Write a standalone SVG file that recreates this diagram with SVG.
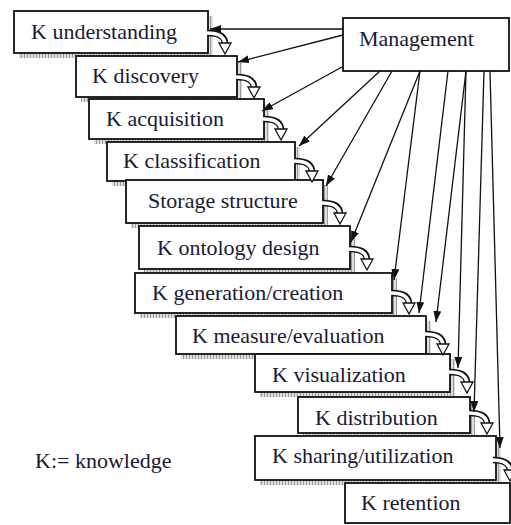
<svg xmlns="http://www.w3.org/2000/svg" xmlns:xlink="http://www.w3.org/1999/xlink" width="511" height="525" viewBox="0 0 511 525">
<style>
.box{fill:#fff;stroke:#111;stroke-width:1.8}
.sh{fill:url(#hatch)}
.t{font-family:"Liberation Serif","Times New Roman",serif;font-size:22px;fill:#1a1a34}
.ln{stroke:#111;stroke-width:1.3;fill:none;marker-end:url(#ah)}
.bo{stroke:#111;stroke-width:6.5;fill:none}
.bi{stroke:#fff;stroke-width:3.6;fill:none}
.hd{fill:#fff;stroke:#111;stroke-width:1.3;stroke-linejoin:miter}
</style>
<defs>
<pattern id="hatch" width="3" height="3" patternUnits="userSpaceOnUse">
<rect width="3" height="3" fill="#dedede"/>
<rect width="1" height="3" fill="#9c9c9c"/>
</pattern>
<marker id="ah" markerWidth="12" markerHeight="9" refX="11" refY="4" orient="auto" markerUnits="userSpaceOnUse">
<path d="M0,0 L11,4 L0,8 z" fill="#111"/>
</marker>
<g id="curl">
<path class="bo" d="M0,-20 Q17,-20 17,-9"/>
<path class="bi" d="M-1,-20 Q17,-20 17,-8"/>
<polygon class="hd" points="11,-10 23,-10 17,1"/>
</g>
</defs>
<rect width="511" height="525" fill="#fff"/>

<g id="n1"><rect class="sh" x="19" y="16" width="194" height="42"/><rect class="box" x="14" y="11" width="194" height="42"/><text class="t" x="31" y="39">K understanding</text></g>
<g id="n2"><rect class="sh" x="81" y="61" width="161" height="41"/><rect class="box" x="76" y="56" width="161" height="41"/><text class="t" x="92" y="83">K discovery</text></g>
<g id="n3"><rect class="sh" x="94" y="104" width="175" height="40"/><rect class="box" x="89" y="99" width="175" height="40"/><text class="t" x="106" y="126">K acquisition</text></g>
<g id="n4"><rect class="sh" x="112" y="147" width="188" height="39"/><rect class="box" x="107" y="142" width="188" height="39"/><text class="t" x="123" y="168">K classification</text></g>
<g id="n5"><rect class="sh" x="131" y="185" width="197" height="43"/><rect class="box" x="126" y="180" width="197" height="43"/><text class="t" x="148" y="208">Storage structure</text></g>
<g id="n6"><rect class="sh" x="144" y="231" width="211" height="43"/><rect class="box" x="139" y="226" width="211" height="43"/><text class="t" x="157" y="255">K ontology design</text></g>
<g id="n7"><rect class="sh" x="140" y="278" width="257" height="40"/><rect class="box" x="135" y="273" width="257" height="40"/><text class="t" x="152" y="300">K generation/creation</text></g>
<g id="n8"><rect class="sh" x="181" y="321" width="250" height="38"/><rect class="box" x="176" y="316" width="250" height="38"/><text class="t" x="192" y="343">K measure/evaluation</text></g>
<g id="n9"><rect class="sh" x="260" y="359" width="195" height="38"/><rect class="box" x="255" y="354" width="195" height="38"/><text class="t" x="272" y="382">K visualization</text></g>
<g id="n10"><rect class="sh" x="303" y="402" width="172" height="36"/><rect class="box" x="298" y="397" width="172" height="36"/><text class="t" x="315" y="425">K distribution</text></g>
<g id="n11"><rect class="sh" x="260" y="441" width="241" height="44"/><rect class="box" x="255" y="436" width="241" height="44"/><text class="t" x="272" y="463">K sharing/utilization</text></g>
<g id="n12"><rect class="box" x="345" y="483" width="165" height="40"/><text class="t" x="361" y="510">K retention</text></g>
<g id="mgmt"><rect class="box" x="343" y="18" width="166" height="53"/><text class="t" x="359" y="46">Management</text></g>
<g id="legend"><text class="t" x="35" y="468">K:= knowledge</text></g>

<g id="connectors">
<use xlink:href="#curl" x="208" y="53"/>
<use xlink:href="#curl" x="237" y="97"/>
<use xlink:href="#curl" x="264" y="139"/>
<use xlink:href="#curl" x="295" y="181"/>
<use xlink:href="#curl" x="323" y="223"/>
<use xlink:href="#curl" x="350" y="269"/>
<use xlink:href="#curl" x="392" y="313"/>
<use xlink:href="#curl" x="426" y="354"/>
<use xlink:href="#curl" x="450" y="392"/>
<use xlink:href="#curl" x="470" y="433"/>
<use xlink:href="#curl" x="493" y="480"/>
<line class="ln" x1="343" y1="29" x2="210" y2="29"/>
<line class="ln" x1="343" y1="35" x2="238" y2="62"/>
<line class="ln" x1="342" y1="67" x2="262" y2="111"/>
<line class="ln" x1="380" y1="71" x2="299" y2="146"/>
<line class="ln" x1="392" y1="71" x2="326" y2="186"/>
<line class="ln" x1="420" y1="71" x2="351" y2="242"/>
<line class="ln" x1="420" y1="71" x2="394" y2="280"/>
<line class="ln" x1="448" y1="71" x2="419" y2="313"/>
<line class="ln" x1="466" y1="71" x2="436" y2="322"/>
<line class="ln" x1="466" y1="71" x2="458" y2="368"/>
<line class="ln" x1="484" y1="71" x2="474" y2="412"/>
<line class="ln" x1="490" y1="71" x2="500" y2="448"/>
</g>
</svg>
